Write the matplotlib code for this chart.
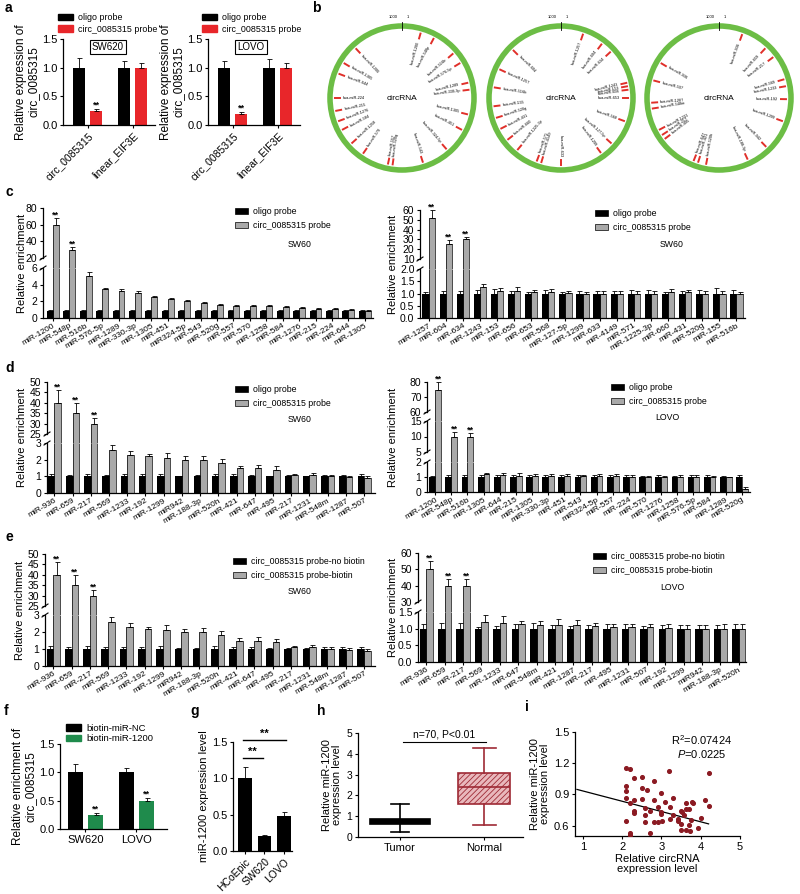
import numpy as np
import matplotlib
matplotlib.use("Agg")
import matplotlib.pyplot as plt
from matplotlib.patches import Patch, Circle
from matplotlib.lines import Line2D

plt.rcParams["font.family"] = ["Liberation Sans", "DejaVu Sans"]
plt.rcParams["mathtext.fontset"] = "custom"
plt.rcParams["mathtext.rm"] = "Liberation Sans"
plt.rcParams["mathtext.it"] = "Liberation Sans:italic"
plt.rcParams["axes.linewidth"] = 0.9
plt.rcParams["hatch.linewidth"] = 0.6

# ---- data -------------------------------------------------------------
a_groups = ["circ_0085315", "linear_EIF3E"]
a_sw_oligo, a_sw_oligo_err = [1.0, 1.0], [0.17, 0.12]
a_sw_probe, a_sw_probe_err = [0.25, 1.0], [0.03, 0.08]
a_lovo_oligo, a_lovo_oligo_err = [1.0, 1.0], [0.12, 0.15]
a_lovo_probe, a_lovo_probe_err = [0.2, 1.0], [0.03, 0.08]

b_angles_1 = [16, 28, 49, 59, 77, 83, 104, 118, 139, 162, 188, 192, 215, 228, 242, 250, 259, 270, 291, 301, 317]
b_angles_2 = [19, 37, 47, 77, 80, 83, 90, 110, 132, 144, 180, 197, 201, 220, 232, 243, 253, 263, 279, 295, 315]
b_angles_3 = [20, 43, 53, 74, 80, 91, 110, 136, 155, 191, 198, 202, 233, 237, 242, 261, 266, 285, 301]

c1_names = ["miR-1200", "miR-548p", "miR-516b", "miR-576-5p", "miR-1289", "miR-330-3p", "miR-1305",
            "miR-451", "miR324-5p", "miR-543", "miR-520g", "miR-557", "miR-570", "miR-1258", "miR-584",
            "miR-1276", "miR-215", "miR-224", "miR-644", "miR-1305"]
c1_oligo = [0.9, 0.9, 0.9, 0.9, 0.9, 0.9, 0.9, 0.9, 0.9, 0.9, 0.9, 0.9, 0.9, 0.9, 0.9, 0.9, 0.9, 0.9, 0.9, 0.9]
c1_oligo_err = [0.1, 0.08, 0.1, 0.08, 0.1, 0.1, 0.12, 0.1, 0.12, 0.08, 0.1, 0.1, 0.08, 0.1, 0.1, 0.1, 0.1, 0.12, 0.1, 0.1]
c1_probe = [60, 30, 5.0, 3.5, 3.3, 3.0, 2.5, 2.3, 2.0, 1.8, 1.6, 1.5, 1.5, 1.4, 1.3, 1.2, 1.1, 1.05, 0.95, 0.9]
c1_probe_err = [8, 3, 0.5, 0.15, 0.2, 0.3, 0.2, 0.1, 0.2, 0.1, 0.1, 0.1, 0.1, 0.15, 0.1, 0.1, 0.15, 0.1, 0.1, 0.1]

c2_names = ["miR-1257", "miR-604", "miR-634", "miR-1243", "miR-153", "miR-656", "miR-653", "miR-568",
            "miR-127-5p", "miR-1299", "miR-633", "miR-4149", "miR-571", "miR-1225-3p", "miR-660",
            "miR-431", "miR-520g", "miR-155", "miR-516b"]
c2_oligo = [1.0] * 19
c2_oligo_err = [0.08, 0.12, 0.12, 0.15, 0.18, 0.1, 0.08, 0.15, 0.08, 0.1, 0.1, 0.1, 0.15, 0.15, 0.05, 0.12, 0.15, 0.22, 0.15]
c2_probe = [52, 25, 30, 1.28, 1.1, 1.1, 1.07, 1.05, 1.02, 1.0, 1.0, 1.0, 1.0, 1.0, 1.08, 1.05, 1.0, 0.98, 0.97]
c2_probe_err = [8, 4, 2.5, 0.12, 0.12, 0.15, 0.08, 0.12, 0.08, 0.08, 0.1, 0.12, 0.12, 0.1, 0.12, 0.1, 0.1, 0.12, 0.1]

d1_names = ["miR-936", "miR-659", "miR-217", "miR-569", "miR-1233", "miR-192", "miR-1299", "miR942",
            "miR-188-3p", "miR-520h", "miR-421", "miR-647", "miR-495", "miR-217", "miR-1231", "miR-548m",
            "miR-1287", "miR-507"]
d1_oligo = [1.0] * 18
d1_oligo_err = [0.15, 0.1, 0.15, 0.1, 0.12, 0.12, 0.15, 0.05, 0.08, 0.15, 0.12, 0.1, 0.05, 0.08, 0.05, 0.1, 0.1, 0.12]
d1_probe = [40, 35, 30, 2.6, 2.3, 2.2, 2.1, 2.0, 2.0, 1.8, 1.5, 1.5, 1.4, 1.1, 1.1, 1.0, 0.95, 0.9]
d1_probe_err = [6, 5, 2.5, 0.3, 0.25, 0.12, 0.3, 0.2, 0.25, 0.25, 0.15, 0.2, 0.2, 0.05, 0.12, 0.1, 0.1, 0.12]

d2_names = ["miR-1200", "miR-548p", "miR-516b", "miR-1305", "miR-644", "miR-215", "miR-1305", "miR-330-3p",
            "miR-451", "miR-543", "miR324-5p", "miR-557", "miR-224", "miR-570", "miR-1276", "miR-1258",
            "miR-576-5p", "miR-584", "miR-1289", "miR-520g"]
d2_oligo = [1.0] * 20
d2_oligo_err = [0.1, 0.12, 0.15, 0.15, 0.12, 0.15, 0.12, 0.15, 0.12, 0.15, 0.15, 0.12, 0.12, 0.1, 0.12, 0.1, 0.15, 0.15, 0.1, 0.12]
d2_probe = [75, 10, 10, 1.2, 1.15, 1.1, 1.1, 1.1, 1.1, 1.05, 1.05, 1.05, 1.0, 1.0, 1.0, 1.0, 1.0, 1.0, 0.97, 0.2]
d2_probe_err = [5, 1.5, 1.2, 0.1, 0.1, 0.15, 0.1, 0.12, 0.12, 0.1, 0.15, 0.12, 0.12, 0.1, 0.1, 0.12, 0.15, 0.1, 0.05, 0.15]

e1_names = ["miR-936", "miR-659", "miR-217", "miR-569", "miR-1233", "miR-192", "miR-1299", "miR942",
            "miR-188-3p", "miR-520h", "miR-421", "miR-647", "miR-495", "miR-217", "miR-1231", "miR-548m",
            "miR-1287", "miR-507"]
e1_nobiotin = [1.0] * 18
e1_nobiotin_err = [0.15, 0.1, 0.15, 0.1, 0.12, 0.12, 0.15, 0.05, 0.08, 0.15, 0.12, 0.1, 0.05, 0.08, 0.05, 0.1, 0.1, 0.12]
e1_biotin = [40, 35, 30, 2.6, 2.3, 2.2, 2.1, 2.0, 2.0, 1.8, 1.5, 1.5, 1.4, 1.1, 1.1, 1.0, 0.95, 0.9]
e1_biotin_err = [6, 5, 2.5, 0.3, 0.25, 0.12, 0.3, 0.2, 0.25, 0.25, 0.15, 0.2, 0.2, 0.05, 0.12, 0.1, 0.1, 0.12]

e2_names = ["miR-936", "miR-659", "miR-217", "miR-569", "miR-1233", "miR-647", "miR-548m", "miR-421",
            "miR-1287", "miR-217", "miR-495", "miR-1231", "miR-507", "miR-192", "miR-1299", "miR942",
            "miR-188-3p", "miR-520h"]
e2_nobiotin = [1.0] * 18
e2_nobiotin_err = [0.15, 0.17, 0.18, 0.06, 0.07, 0.13, 0.18, 0.12, 0.07, 0.12, 0.15, 0.13, 0.08, 0.1, 0.1, 0.1, 0.1, 0.15]
e2_biotin = [50, 40, 40, 1.2, 1.17, 1.15, 1.12, 1.12, 1.1, 1.08, 1.05, 1.05, 1.05, 1.02, 1.0, 1.0, 1.0, 1.0]
e2_biotin_err = [5, 4, 4, 0.2, 0.2, 0.08, 0.12, 0.18, 0.15, 0.08, 0.08, 0.1, 0.08, 0.12, 0.12, 0.12, 0.15, 0.15]

f_groups = ["SW620", "LOVO"]
f_nc, f_nc_err = [1.0, 1.0], [0.15, 0.08]
f_mir, f_mir_err = [0.25, 0.5], [0.03, 0.05]

g_cells = ["HCoEpic", "SW620", "LOVO"]
g_expr = [1.0, 0.2, 0.48]
g_err = [0.15, 0.02, 0.05]

h_labels = ["Tumor", "Normal"]
h_whislo = [0.25, 0.58]
h_q1 = [0.62, 1.6]
h_med = [0.75, 2.4]
h_q3 = [0.88, 3.08]
h_whishi = [1.58, 4.28]

i_circ = [2.09, 2.21, 3.19, 4.21, 2.29, 2.50, 2.80, 2.10, 2.10, 2.50, 2.62, 3.00, 2.10, 2.29, 2.50,
          3.30, 2.80, 2.21, 3.10, 3.62, 3.79, 3.81, 4.11, 4.21, 3.21, 2.59, 2.91, 2.29, 2.29, 2.72,
          3.00, 3.00, 3.49, 3.53, 3.62, 3.70, 3.57, 2.59, 3.30, 2.10, 2.59, 2.80, 2.91, 3.02, 3.21,
          3.42, 3.42, 3.49, 3.74, 4.00, 3.70, 3.92, 3.49, 3.62, 3.73, 2.70, 2.19, 2.21]
i_mir = [1.158, 1.142, 1.126, 1.110, 1.062, 1.068, 1.029, 0.981, 0.932, 0.958, 0.939, 0.910, 0.861, 0.848, 0.852,
         0.868, 0.848, 0.813, 0.823, 0.813, 0.829, 0.813, 0.842, 0.787, 0.777, 0.771, 0.777, 0.745, 0.723, 0.745,
         0.732, 0.713, 0.745, 0.732, 0.755, 0.755, 0.706, 0.706, 0.700, 0.642, 0.632, 0.635, 0.632, 0.642, 0.664,
         0.664, 0.642, 0.616, 0.658, 0.674, 0.610, 0.577, 0.555, 0.555, 0.552, 0.529, 0.529, 0.506]
i_fit = (1.032, -0.0989)  # intercept, slope

# ---- helpers ------------------------------------------------------------
W, H = 800, 894
GRAY = "#a9a9a9"
RED = "#e8262a"
GREEN = "#1f8b4c"
DARKRED = "#9e2a35"

fig = plt.figure(figsize=(8, 8.94), dpi=100)


def rect(x0, y0, x1, y1):
    return [x0 / W, 1 - y1 / H, (x1 - x0) / W, (y1 - y0) / H]


def fx(x):
    return x / W


def fy(y):
    return 1 - y / H


def style(ax, size=8):
    ax.spines["top"].set_visible(False)
    ax.spines["right"].set_visible(False)
    ax.tick_params(direction="out", length=2.5, width=0.8, labelsize=size, pad=1.5)


def up_err(ax, x, v, e, **kw):
    ax.errorbar(x, v, yerr=[np.zeros(len(v)), e], fmt="none", ecolor="k",
                elinewidth=0.6, capsize=1.8, capthick=0.6, **kw)


def legend(handles, labels, x, y, size=6.3, spacing=0.55, hl=1.5, hh=0.7):
    fig.legend(handles, labels, loc="upper left", bbox_to_anchor=(fx(x), fy(y)),
               frameon=False, fontsize=size, labelspacing=spacing, handlelength=hl,
               handleheight=hh, handletextpad=0.6, borderpad=0, borderaxespad=0)


def bar_panel(x0, x1, segs, ylims, yticks, ytl, names, v1, e1, v2, e2, xlim, nstars=3):
    x = np.arange(len(names))
    w = 0.36
    v1, e1, v2, e2 = map(np.asarray, (v1, e1, v2, e2))
    n = len(segs)
    axes = []
    for k in range(n):
        yt, yb = segs[k]
        lo, hi = ylims[k]
        last = k == n - 1
        ax = fig.add_axes(rect(x0, yt, x1, yb))
        style(ax, 7.5)
        ax.set_xlim(*xlim)
        ax.set_ylim(lo, hi)
        ax.set_yticks(yticks[k])
        ax.set_yticklabels(ytl[k])
        if last:
            ext = lo
            ax.set_xticks(x)
            ax.set_xticklabels(names, rotation=30, ha="right", rotation_mode="anchor", fontsize=6)
            ax.tick_params(axis="x", length=2, pad=1)
        else:
            # bars passing through the break are carried across the gap
            gap = segs[k + 1][0] - yb
            ext = lo - gap * (hi - lo) / (yb - yt)
            ax.spines["bottom"].set_visible(False)
            ax.tick_params(axis="x", bottom=False, labelbottom=False)
            for yy in (yb, segs[k + 1][0]):
                fig.add_artist(Line2D([fx(x0 - 3), fx(x0 + 3)], [fy(yy + 2), fy(yy - 2)],
                                      color="k", lw=0.8))
        for xs, v, e, c in ((x - w / 2, v1, e1, "black"), (x + w / 2, v2, e2, GRAY)):
            m = np.ones(len(v), bool) if last else v > lo
            if not m.any():
                continue
            top = np.minimum(v[m], hi)
            ax.bar(xs[m], top - ext, w, bottom=ext, color=c, edgecolor="none", clip_on=last)
            for xc, t, vv in zip(xs[m], top, v[m]):
                if vv <= hi:
                    px, py = [xc - w / 2, xc - w / 2, xc + w / 2, xc + w / 2], [ext, t, t, ext]
                else:
                    px, py = [xc - w / 2, xc - w / 2, np.nan, xc + w / 2, xc + w / 2], [ext, hi, np.nan, hi, ext]
                ax.plot(px, py, color="k", lw=0.5, clip_on=last, solid_capstyle="butt")
            up_err(ax, xs[m], v[m], e[m])
        axes.append(ax)
    for i in range(nstars):
        top = v2[i] + e2[i]
        for k in range(n):
            lo, hi = ylims[k]
            if lo < top <= hi * 1.01:
                axes[k].text(x[i] + w / 2, top + 0.01 * (hi - lo), "**", ha="center",
                             va="baseline", fontsize=6.5, fontweight="bold")
                break
    return axes


# ---- panel a --------------------------------------------------------------
def panel_a(x0, x1, oligo, oe, probe, pe, cell, cell_x, leg_x):
    ax = fig.add_axes(rect(x0, 39, x1, 125))
    style(ax, 8)
    x = np.arange(len(a_groups))
    ax.bar(x - 0.19, oligo, 0.26, color="black")
    ax.bar(x + 0.19, probe, 0.26, color=RED)
    up_err(ax, x - 0.19, oligo, oe)
    up_err(ax, x + 0.19, probe, pe)
    ax.text(0.19, probe[0] + pe[0] + 0.02, "**", ha="center", va="baseline", fontsize=6.5, fontweight="bold")
    ax.set_ylim(0, 1.5)
    ax.set_yticks([0, 0.5, 1.0, 1.5])
    ax.set_yticklabels(["0.0", "0.5", "1.0", "1.5"])
    ax.set_xlim(-0.55, 1.5)
    ax.set_xticks(x)
    ax.set_xticklabels(a_groups, rotation=45, ha="right", rotation_mode="anchor", fontsize=7.5)
    ax.set_ylabel("Relative expression of\ncirc_0085315", fontsize=8.5, labelpad=2, linespacing=1.0)
    legend([Patch(color="black"), Patch(color=RED)], ["oligo probe", "circ_0085315 probe"],
           leg_x, 13, size=6.4, spacing=0.3, hl=1.7, hh=0.75)
    fig.text(fx(cell_x), fy(47), cell, ha="center", va="center", fontsize=7,
             bbox=dict(boxstyle="square,pad=0.25", fc="white", ec="k", lw=0.8))


panel_a(63, 155, a_sw_oligo, a_sw_oligo_err, a_sw_probe, a_sw_probe_err, "SW620", 108, 58)
panel_a(208, 300, a_lovo_oligo, a_lovo_oligo_err, a_lovo_probe, a_lovo_probe_err, "LOVO", 251, 202)

# ---- panel b --------------------------------------------------------------
axb = fig.add_axes(rect(325, 0, 800, 180))
axb.set_xlim(325, 800)
axb.set_ylim(180, 0)
axb.axis("off")
for cx, angles, names in ((402, b_angles_1, c1_names), (561, b_angles_2, c2_names),
                          (719, b_angles_3, d1_names)):
    cy = 98
    axb.add_patch(Circle((cx, cy), 72, fill=False, ec="#6cbd45", lw=4))
    axb.plot([cx, cx], [cy - 76, cy - 68], color="k", lw=0.6)
    axb.text(cx - 9, cy - 81, "1000", fontsize=3, ha="center", va="center")
    axb.text(cx + 6, cy - 81, "1", fontsize=3, ha="center", va="center")
    axb.text(cx, cy, "circRNA", fontsize=6, ha="center", va="center")
    for j, th in enumerate(angles):
        r = np.deg2rad(th)
        sx, cs = np.sin(r), np.cos(r)
        axb.plot([cx + 62 * sx, cx + 67 * sx], [cy - 62 * cs, cy - 67 * cs], color="#e0302a", lw=1.4)
        lab = "hsa-" + names[j % len(names)].replace("miR3", "miR-3").replace("miR9", "miR-9")
        if th <= 180:
            rot, ha = 90 - th, "right"
        else:
            rot, ha = 270 - th, "left"
        axb.text(cx + 59 * sx, cy - 59 * cs, lab, fontsize=2.8, rotation=rot, ha=ha, va="center",
                 rotation_mode="anchor")

# ---- panel c --------------------------------------------------------------
GRAY_H = [Patch(fc="black", ec="k", lw=0.5), Patch(fc=GRAY, ec="k", lw=0.5)]

bar_panel(43, 373, [(208, 258), (268, 318)], [(20, 80), (0, 6)],
          [[20, 40, 60, 80], [0, 2, 4, 6]], [["20", "40", "60", "80"], ["0", "2", "4", "6"]],
          c1_names, c1_oligo, c1_oligo_err, c1_probe, c1_probe_err, (-0.6, 19.5), nstars=2)
fig.text(fx(22), fy(263), "Relative enrichment", rotation=90, ha="center", va="center", fontsize=8)
legend(GRAY_H, ["oligo probe", "circ_0085315 probe"], 235, 207)
fig.text(fx(300), fy(245), "SW60", ha="center", va="center", fontsize=6.3)

bar_panel(420, 745, [(210, 259), (269, 318)], [(10, 60), (0, 2)],
          [[10, 20, 30, 40, 50, 60], [0, 0.5, 1.0, 1.5, 2.0]],
          [["10", "20", "30", "40", "50", "60"], ["0.0", "0.5", "1.0", "1.5", "2.0"]],
          c2_names, c2_oligo, c2_oligo_err, c2_probe, c2_probe_err, (-0.5, 18.5))
fig.text(fx(393), fy(264), "Relative enrichment", rotation=90, ha="center", va="center", fontsize=8)
legend(GRAY_H, ["oligo probe", "circ_0085315 probe"], 595, 209)
fig.text(fx(672), fy(245), "SW60", ha="center", va="center", fontsize=6.3)

# ---- panel d --------------------------------------------------------------
bar_panel(47, 375, [(382, 434), (443, 493)], [(25, 50), (0, 3)],
          [[25, 30, 35, 40, 45, 50], [0, 1, 2, 3]],
          [["25", "30", "35", "40", "45", "50"], ["0", "1", "2", "3"]],
          d1_names, d1_oligo, d1_oligo_err, d1_probe, d1_probe_err, (-0.4, 17.6))
fig.text(fx(22), fy(437), "Relative enrichment", rotation=90, ha="center", va="center", fontsize=8)
legend(GRAY_H, ["oligo probe", "circ_0085315 probe"], 235, 385)
fig.text(fx(300), fy(420), "SW60", ha="center", va="center", fontsize=6.3)

bar_panel(427, 750, [(382, 412), (421, 452), (462, 492)], [(60, 80), (5, 15), (0, 2)],
          [[60, 70, 80], [5, 10, 15], [0, 1, 2]],
          [["60", "70", "80"], ["5", "10", "15"], ["0", "1", "2"]],
          d2_names, d2_oligo, d2_oligo_err, d2_probe, d2_probe_err, (-0.5, 19.5))
fig.text(fx(393), fy(437), "Relative enrichment", rotation=90, ha="center", va="center", fontsize=8)
legend(GRAY_H, ["oligo probe", "circ_0085315 probe"], 611, 383)
fig.text(fx(667), fy(418), "LOVO", ha="center", va="center", fontsize=6.3)

# ---- panel e --------------------------------------------------------------
bar_panel(45, 375, [(554, 606), (615, 666)], [(25, 50), (0, 3)],
          [[25, 30, 35, 40, 45, 50], [0, 1, 2, 3]],
          [["25", "30", "35", "40", "45", "50"], ["0", "1", "2", "3"]],
          e1_names, e1_nobiotin, e1_nobiotin_err, e1_biotin, e1_biotin_err, (-0.45, 17.6))
fig.text(fx(20), fy(610), "Relative enrichment", rotation=90, ha="center", va="center", fontsize=8)
legend(GRAY_H, ["circ_0085315 probe-no biotin", "circ_0085315 probe-biotin"], 233, 557)
fig.text(fx(300), fy(591), "SW60", ha="center", va="center", fontsize=6.3)

bar_panel(418, 746, [(553, 602), (612, 662)], [(30, 60), (0, 1.5)],
          [[30, 40, 50, 60], [0, 0.5, 1.0, 1.5]],
          [["30", "40", "50", "60"], ["0.0", "0.5", "1.0", "1.5"]],
          e2_names, e2_nobiotin, e2_nobiotin_err, e2_biotin, e2_biotin_err, (-0.45, 17.4))
fig.text(fx(393), fy(607), "Relative enrichment", rotation=90, ha="center", va="center", fontsize=8)
legend(GRAY_H, ["circ_0085315 probe-no biotin", "circ_0085315 probe-biotin"], 593, 552)
fig.text(fx(672), fy(588), "LOVO", ha="center", va="center", fontsize=6.3)

# ---- panel f --------------------------------------------------------------
axf = fig.add_axes(rect(60, 744, 167, 829))
style(axf, 8)
xf = np.arange(len(f_groups))
axf.bar(xf - 0.2, f_nc, 0.29, color="black")
axf.bar(xf + 0.2, f_mir, 0.29, color=GREEN)
up_err(axf, xf - 0.2, f_nc, f_nc_err)
up_err(axf, xf + 0.2, f_mir, f_mir_err)
for i in range(len(xf)):
    axf.text(xf[i] + 0.2, f_mir[i] + f_mir_err[i] + 0.02, "**", ha="center", va="baseline",
             fontsize=6.5, fontweight="bold")
axf.set_ylim(0, 1.5)
axf.set_yticks([0, 0.5, 1.0, 1.5])
axf.set_yticklabels(["0.0", "0.5", "1.0", "1.5"])
axf.set_xlim(-0.5, 1.6)
axf.set_xticks(xf)
axf.set_xticklabels(f_groups, fontsize=8)
axf.set_ylabel("Relative enrichment of\ncirc_0085315", fontsize=8.5, labelpad=2, linespacing=1.0)
legend([Patch(color="black"), Patch(color=GREEN)], ["biotin-miR-NC", "biotin-miR-1200"],
       66, 724, size=6.8, spacing=0.15, hl=1.6, hh=0.7)

# ---- panel g --------------------------------------------------------------
axg = fig.add_axes(rect(233, 742, 292, 851))
style(axg, 8)
xg = np.arange(len(g_cells))
axg.bar(xg, g_expr, 0.7, color="black")
up_err(axg, xg, g_expr, g_err)
axg.set_ylim(0, 1.5)
axg.set_yticks([0, 0.5, 1.0, 1.5])
axg.set_yticklabels(["0.0", "0.5", "1.0", "1.5"])
axg.set_xlim(-0.6, 2.4)
axg.set_xticks(xg)
axg.set_xticklabels(g_cells, rotation=45, ha="right", rotation_mode="anchor", fontsize=7.5)
axg.set_ylabel("miR-1200 expression level", fontsize=8, labelpad=2)
axg.plot([-0.1, 0.9], [1.28, 1.28], color="k", lw=1, clip_on=False)
axg.plot([-0.1, 2.1], [1.53, 1.53], color="k", lw=1, clip_on=False)
axg.text(0.4, 1.32, "**", ha="center", va="baseline", fontsize=8, fontweight="bold")
axg.text(1.0, 1.57, "**", ha="center", va="baseline", fontsize=8, fontweight="bold")

# ---- panel h --------------------------------------------------------------
axh = fig.add_axes(rect(358, 733, 523, 837))
style(axh, 7.5)
stats = [dict(whislo=h_whislo[i], q1=h_q1[i], med=h_med[i], q3=h_q3[i], whishi=h_whishi[i])
         for i in range(len(h_labels))]
bp = axh.bxp(stats, positions=[0, 1], widths=[0.72, 0.62], capwidths=[0.22, 0.27],
             showfliers=False, patch_artist=True)
for i, c in enumerate(["black", DARKRED]):
    bp["boxes"][i].set_edgecolor(c)
    bp["boxes"][i].set_linewidth(1.2)
    bp["medians"][i].set_color(c)
    bp["medians"][i].set_linewidth(1.2)
    for art in bp["whiskers"][2 * i:2 * i + 2] + bp["caps"][2 * i:2 * i + 2]:
        art.set_color(c)
        art.set_linewidth(1.2)
bp["boxes"][0].set_facecolor("black")
bp["boxes"][1].set_facecolor("#e9b8bc")
bp["boxes"][1].set_hatch("//////")
axh.set_ylim(0, 5)
axh.set_yticks([0, 1, 2, 3, 4, 5])
axh.set_xlim(-0.5, 1.46)
axh.set_xticks([0, 1])
axh.set_xticklabels(h_labels, fontsize=8)
axh.set_ylabel("Relative miR-1200\nexpression level", fontsize=8, labelpad=3, linespacing=1.0)
axh.plot([0.03, 1.02], [4.57, 4.57], color="k", lw=0.8, clip_on=False)
axh.text(0.52, 4.68, "n=70, P<0.01", ha="center", va="bottom", fontsize=7.5)

# ---- panel i --------------------------------------------------------------
axi = fig.add_axes(rect(575, 732, 740, 836))
style(axi, 8)
axi.scatter(i_circ, i_mir, s=7, color="#8b1a22", zorder=3)
xl = np.array([0.85, 4.2])
axi.plot(xl, i_fit[0] + i_fit[1] * xl, color="k", lw=0.9)
axi.set_xlim(0.8, 5.0)
axi.set_ylim(0.5, 1.5)
axi.set_xticks([1, 2, 3, 4, 5])
axi.set_yticks([0.6, 0.9, 1.2, 1.5])
axi.set_xlabel("Relative circRNA\nexpression level", fontsize=8, labelpad=2, linespacing=1.0)
axi.set_ylabel("Relative miR-1200\nexpression level", fontsize=8, labelpad=3, linespacing=1.0)
fig.text(fx(702), fy(740), r"R$^2$=0.07424", ha="center", va="center", fontsize=8)
fig.text(fx(702), fy(754), r"$\mathit{P}$=0.0225", ha="center", va="center", fontsize=8)

# ---- panel letters ---------------------------------------------------------
for lab, x, y in (("a", 5, 8), ("b", 312, 8), ("c", 5, 192), ("d", 5, 368), ("e", 5, 537),
                  ("f", 4, 711), ("g", 190, 711), ("h", 317, 711), ("i", 525, 707)):
    fig.text(fx(x), fy(y), lab, fontsize=10, fontweight="bold", va="center", ha="left")

fig.savefig("out.png", dpi=100)
